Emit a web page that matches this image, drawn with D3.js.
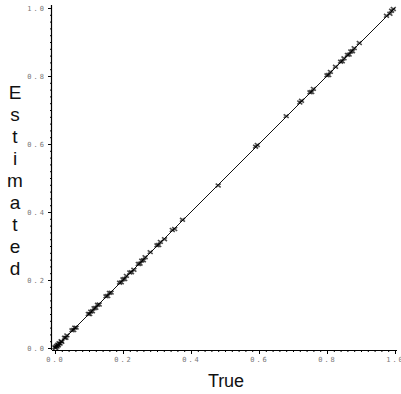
<!DOCTYPE html>
<html>
<head>
<meta charset="utf-8">
<script src="https://cdn.jsdelivr.net/npm/d3@7"></script>
<style>
  body { margin: 0; background: #fff; }
  .tick text { font-family: "DejaVu Sans Mono", monospace; font-size: 7px; fill: #777; letter-spacing: 2px; }
  .ttl { font-family: "Liberation Sans", Arial, sans-serif; fill: #111; }
</style>
</head>
<body>
<div id="chart"></div>
<script>
// true vs estimated values
var trueVals = [0.000,0.002,0.004,0.006,0.008,0.010,0.012,0.015,0.018,0.020,
  0.028,0.032,0.035, 0.050,0.055,0.058,0.062,
  0.098,0.102,0.105,0.110,0.115,0.120, 0.125,0.130,
  0.150,0.155,0.160,0.165, 0.190,0.195,0.200,0.205,0.210,
  0.220,0.225,0.232, 0.245,0.250,0.255,0.260,0.265, 0.280,
  0.300,0.305,0.310, 0.322, 0.345,0.352, 0.375, 0.480,
  0.590,0.595, 0.680, 0.720,0.725, 0.750,0.755,0.760,
  0.800,0.805,0.810, 0.825, 0.840,0.845,0.850,
  0.860,0.865,0.870,0.875,0.880, 0.895,
  0.975,0.985,0.990,0.995];
var estVals = [0.002,0.000,0.006,0.004,0.010,0.008,0.014,0.013,0.020,0.018,
  0.030,0.030,0.037, 0.052,0.053,0.060,0.060,
  0.100,0.100,0.107,0.108,0.117,0.118, 0.127,0.128,
  0.152,0.153,0.162,0.163, 0.192,0.193,0.202,0.203,0.212,
  0.222,0.223,0.230, 0.247,0.248,0.257,0.258,0.267, 0.282,
  0.302,0.303,0.312, 0.320, 0.347,0.350, 0.377, 0.478,
  0.592,0.597, 0.682, 0.722,0.727, 0.752,0.753,0.762,
  0.802,0.803,0.812, 0.827, 0.842,0.843,0.852,
  0.862,0.863,0.872,0.873,0.882, 0.897,
  0.977,0.983,0.992,0.997];
var majorTicks = [0, 0.2, 0.4, 0.6, 0.8, 1.0];
var minorTicks = d3.range(0, 51).map(function(i) { return i / 50; });
var yLetters = ["E","s","t","i","m","a","t","e","d"];

var width = 401, height = 394;
var svg = d3.select("#chart").append("svg").attr("width", width).attr("height", height);

var x = d3.scaleLinear().domain([0, 1]).range([55, 395]);
var y = d3.scaleLinear().domain([0, 1]).range([348, 8]);

var fmt = d3.format(".1f");

// minor ticks
svg.append("g").attr("transform", "translate(0,350)")
  .call(d3.axisBottom(x).tickValues(minorTicks).tickSize(2).tickFormat("").tickSizeOuter(0))
  .call(function(g) { g.select(".domain").remove(); });
svg.append("g").attr("transform", "translate(52,0)")
  .call(d3.axisLeft(y).tickValues(minorTicks).tickSize(2).tickFormat("").tickSizeOuter(0))
  .call(function(g) { g.select(".domain").remove(); });

// major ticks + labels
var ax = svg.append("g").attr("transform", "translate(0,350)")
  .call(d3.axisBottom(x).tickValues(majorTicks).tickSize(4).tickPadding(3).tickFormat(fmt).tickSizeOuter(0));
ax.select(".domain").attr("d", "M52,0.5H397");
var ay = svg.append("g").attr("transform", "translate(52,0)")
  .call(d3.axisLeft(y).tickValues(majorTicks).tickSize(4).tickPadding(2).tickFormat(fmt).tickSizeOuter(0));
ay.select(".domain").attr("d", "M-0.5,5V350");
svg.selectAll(".domain").attr("stroke", "#000").attr("stroke-width", 1.2);

// identity line
svg.append("line")
  .attr("x1", x(0)).attr("y1", y(0)).attr("x2", x(1)).attr("y2", y(1))
  .attr("stroke", "#111").attr("stroke-width", 1);

// points
var pts = trueVals.map(function(t, i) { return { t: t, e: estVals[i] }; });
svg.append("g").selectAll("path").data(pts).join("path")
  .attr("transform", function(d) { return "translate(" + x(d.t) + "," + y(d.e) + ")"; })
  .attr("d", "M-2.5,-1.8L2.5,1.8M-2.5,1.8L2.5,-1.8")
  .attr("stroke", "#000").attr("stroke-width", 1.6).attr("stroke-opacity", 0.7).attr("fill", "none");

// titles
svg.append("text").attr("class", "ttl").attr("x", 226).attr("y", 387)
  .attr("text-anchor", "middle").attr("font-size", 18).attr("textLength", 36).text("True");
svg.append("g").selectAll("text").data(yLetters).join("text")
  .attr("class", "ttl")
  .attr("x", 15).attr("y", function(d, i) { return 99 + i * 22; })
  .attr("text-anchor", "middle").attr("font-size", 19)
  .text(function(d) { return d; });
</script>
</body>
</html>
